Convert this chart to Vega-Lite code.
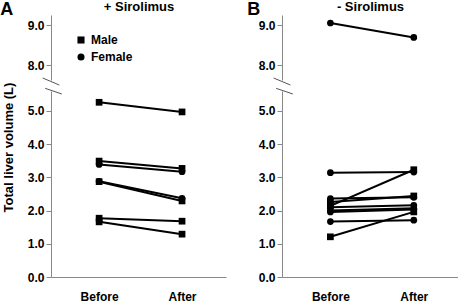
{
  "$schema": "https://vega.github.io/schema/vega-lite/v6.json",
  "padding": {"left": 0, "top": 0, "right": 0, "bottom": 0},
  "spacing": 21,
  "config": {
    "font": "Liberation Sans",
    "view": {"stroke": null},
    "axis": {"domainColor": "#888", "tickColor": "#888", "labelFont": "Liberation Sans", "labelFontWeight": "bold", "labelFontSize": 12, "labelColor": "#000", "titleFont": "Liberation Sans", "titleFontWeight": "bold", "titleColor": "#000", "grid": false, "tickSize": 5, "labelPadding": 2},
    "title": {"font": "Liberation Sans", "fontWeight": "bold", "color": "#000"},
    "legend": {"labelFont": "Liberation Sans", "labelFontWeight": "bold", "labelFontSize": 12, "labelColor": "#000"}
  },
  "datasets": {
    "vol": [
      {"panel": "A", "id": "A1", "sex": "Male", "time": 1, "volume": 5.26},
      {"panel": "A", "id": "A1", "sex": "Male", "time": 2, "volume": 4.97},
      {"panel": "A", "id": "A2", "sex": "Male", "time": 1, "volume": 3.49},
      {"panel": "A", "id": "A2", "sex": "Male", "time": 2, "volume": 3.27},
      {"panel": "A", "id": "A3", "sex": "Female", "time": 1, "volume": 3.39},
      {"panel": "A", "id": "A3", "sex": "Female", "time": 2, "volume": 3.17},
      {"panel": "A", "id": "A5", "sex": "Male", "time": 1, "volume": 2.87},
      {"panel": "A", "id": "A5", "sex": "Male", "time": 2, "volume": 2.29},
      {"panel": "A", "id": "A4", "sex": "Female", "time": 1, "volume": 2.88},
      {"panel": "A", "id": "A4", "sex": "Female", "time": 2, "volume": 2.37},
      {"panel": "A", "id": "A6", "sex": "Male", "time": 1, "volume": 1.77},
      {"panel": "A", "id": "A6", "sex": "Male", "time": 2, "volume": 1.68},
      {"panel": "A", "id": "A7", "sex": "Male", "time": 1, "volume": 1.66},
      {"panel": "A", "id": "A7", "sex": "Male", "time": 2, "volume": 1.29},
      {"panel": "B", "id": "B1", "sex": "Female", "time": 1, "volume": 9.05},
      {"panel": "B", "id": "B1", "sex": "Female", "time": 2, "volume": 8.69},
      {"panel": "B", "id": "B3", "sex": "Male", "time": 1, "volume": 2.14},
      {"panel": "B", "id": "B3", "sex": "Male", "time": 2, "volume": 3.23},
      {"panel": "B", "id": "B2", "sex": "Female", "time": 1, "volume": 3.14},
      {"panel": "B", "id": "B2", "sex": "Female", "time": 2, "volume": 3.16},
      {"panel": "B", "id": "B5", "sex": "Male", "time": 1, "volume": 2.26},
      {"panel": "B", "id": "B5", "sex": "Male", "time": 2, "volume": 2.44},
      {"panel": "B", "id": "B4", "sex": "Female", "time": 1, "volume": 2.36},
      {"panel": "B", "id": "B4", "sex": "Female", "time": 2, "volume": 2.40},
      {"panel": "B", "id": "B6", "sex": "Female", "time": 1, "volume": 2.10},
      {"panel": "B", "id": "B6", "sex": "Female", "time": 2, "volume": 2.16},
      {"panel": "B", "id": "B7", "sex": "Female", "time": 1, "volume": 2.00},
      {"panel": "B", "id": "B7", "sex": "Female", "time": 2, "volume": 2.07},
      {"panel": "B", "id": "B10", "sex": "Male", "time": 1, "volume": 1.21},
      {"panel": "B", "id": "B10", "sex": "Male", "time": 2, "volume": 1.96},
      {"panel": "B", "id": "B8", "sex": "Female", "time": 1, "volume": 1.96},
      {"panel": "B", "id": "B8", "sex": "Female", "time": 2, "volume": 2.03},
      {"panel": "B", "id": "B9", "sex": "Female", "time": 1, "volume": 1.67},
      {"panel": "B", "id": "B9", "sex": "Female", "time": 2, "volume": 1.71}
    ],
    "brk": [
      {"seg": "upper", "t_start": 0.32, "t_end": 0.52, "v_start": 7.675, "v_end": 7.5},
      {"seg": "lower", "t_start": 0.35, "t_end": 0.55, "v_start": 5.68, "v_end": 5.51}
    ]
  },
  "hconcat": [
    {
      "bounds": "flush",
      "spacing": 11,
      "vconcat": [
        {
          "width": 175, "height": 65,
          "title": {"text": "A", "anchor": "start", "frame": "bounds", "fontSize": 18, "offset": -19, "dx": -27},
          "layer": [
            {
              "data": {"name": "brk"},
              "transform": [{"filter": "datum.seg == 'upper'"}],
              "mark": {"type": "rule", "color": "#555", "strokeWidth": 1},
              "encoding": {
                "x": {"field": "t_start", "type": "quantitative"},
                "x2": {"field": "t_end"},
                "y": {"field": "v_start", "type": "quantitative"},
                "y2": {"field": "v_end"}
              }
            },
            {
              "data": {"name": "vol"},
              "transform": [{"filter": "datum.panel == 'A' && datum.volume > 6"}],
              "mark": {"type": "line", "color": "black", "strokeWidth": 2},
              "encoding": {
                "x": {"field": "time", "type": "quantitative"},
                "y": {"field": "volume", "type": "quantitative"},
                "detail": {"field": "id"}
              }
            },
            {
              "data": {"name": "vol"},
              "transform": [{"filter": "datum.panel == 'A' && datum.volume > 6"}],
              "mark": {"type": "point", "filled": true, "color": "black", "opacity": 1, "size": 45},
              "encoding": {
                "x": {"field": "time", "type": "quantitative"},
                "y": {"field": "volume", "type": "quantitative"},
                "shape": {"field": "sex", "type": "nominal", "scale": {"domain": ["Male", "Female"], "range": ["square", "circle"]},
                  "legend": {"orient": "none", "legendX": 24, "legendY": 19, "title": null, "symbolSize": 50, "symbolFillColor": "black", "symbolStrokeColor": "black", "rowPadding": 3}}
              }
            }
          ],
          "encoding": {
            "x": {"scale": {"domain": [0.42, 2.53], "nice": false, "zero": false},
              "axis": {"orient": "top", "title": "+ Sirolimus", "titleFontSize": 13, "titlePadding": 2, "labels": false, "ticks": false, "domain": false}},
            "y": {"scale": {"domain": [7.625, 9.25], "nice": false, "zero": false},
              "axis": {"values": [8, 9], "format": ".1f", "title": null}}
          }
        },
        {
          "width": 175, "height": 186,
          "layer": [
            {
              "data": {"name": "brk"},
              "transform": [{"filter": "datum.seg == 'lower'"}],
              "mark": {"type": "rule", "color": "#555", "strokeWidth": 1},
              "encoding": {
                "x": {"field": "t_start", "type": "quantitative"},
                "x2": {"field": "t_end"},
                "y": {"field": "v_start", "type": "quantitative"},
                "y2": {"field": "v_end"}
              }
            },
            {
              "data": {"name": "vol"},
              "transform": [{"filter": "datum.panel == 'A' && datum.volume < 6"}],
              "mark": {"type": "line", "color": "black", "strokeWidth": 2},
              "encoding": {
                "x": {"field": "time", "type": "quantitative"},
                "y": {"field": "volume", "type": "quantitative"},
                "detail": {"field": "id"}
              }
            },
            {
              "data": {"name": "vol"},
              "transform": [{"filter": "datum.panel == 'A' && datum.volume < 6"}],
              "mark": {"type": "point", "filled": true, "color": "black", "opacity": 1, "size": 45},
              "encoding": {
                "x": {"field": "time", "type": "quantitative"},
                "y": {"field": "volume", "type": "quantitative"},
                "shape": {"field": "sex", "type": "nominal", "scale": {"domain": ["Male", "Female"], "range": ["square", "circle"]}, "legend": null}
              }
            }
          ],
          "encoding": {
            "x": {"scale": {"domain": [0.42, 2.53], "nice": false, "zero": false},
              "axis": {"orient": "bottom", "values": [1, 2], "labelExpr": "datum.value == 1 ? 'Before' : 'After'", "ticks": false, "labelPadding": 14, "labelFontSize": 12, "title": null}},
            "y": {"scale": {"domain": [0, 5.6], "nice": false, "zero": false},
              "axis": {"values": [0, 1, 2, 3, 4, 5], "format": ".1f", "title": "Total liver volume (L)", "titleFontSize": 13, "titleY": 56, "titlePadding": 12}}
          }
        }
      ]
    },
    {
      "bounds": "flush",
      "spacing": 11,
      "vconcat": [
        {
          "width": 176, "height": 65,
          "title": {"text": "B", "anchor": "start", "frame": "bounds", "fontSize": 18, "offset": -19, "dx": -11},
          "layer": [
            {
              "data": {"name": "brk"},
              "transform": [{"filter": "datum.seg == 'upper'"}],
              "mark": {"type": "rule", "color": "#555", "strokeWidth": 1},
              "encoding": {
                "x": {"field": "t_start", "type": "quantitative"},
                "x2": {"field": "t_end"},
                "y": {"field": "v_start", "type": "quantitative"},
                "y2": {"field": "v_end"}
              }
            },
            {
              "data": {"name": "vol"},
              "transform": [{"filter": "datum.panel == 'B' && datum.volume > 6"}],
              "mark": {"type": "line", "color": "black", "strokeWidth": 2},
              "encoding": {
                "x": {"field": "time", "type": "quantitative"},
                "y": {"field": "volume", "type": "quantitative"},
                "detail": {"field": "id"}
              }
            },
            {
              "data": {"name": "vol"},
              "transform": [{"filter": "datum.panel == 'B' && datum.volume > 6"}],
              "mark": {"type": "point", "filled": true, "color": "black", "opacity": 1, "size": 45},
              "encoding": {
                "x": {"field": "time", "type": "quantitative"},
                "y": {"field": "volume", "type": "quantitative"},
                "shape": {"field": "sex", "type": "nominal", "scale": {"domain": ["Male", "Female"], "range": ["square", "circle"]}, "legend": null}
              }
            }
          ],
          "encoding": {
            "x": {"scale": {"domain": [0.42, 2.53], "nice": false, "zero": false},
              "axis": {"orient": "top", "title": "- Sirolimus", "titleFontSize": 13, "titlePadding": 2, "labels": false, "ticks": false, "domain": false}},
            "y": {"scale": {"domain": [7.625, 9.25], "nice": false, "zero": false},
              "axis": {"values": [8, 9], "format": ".1f", "title": null}}
          }
        },
        {
          "width": 176, "height": 186,
          "layer": [
            {
              "data": {"name": "brk"},
              "transform": [{"filter": "datum.seg == 'lower'"}],
              "mark": {"type": "rule", "color": "#555", "strokeWidth": 1},
              "encoding": {
                "x": {"field": "t_start", "type": "quantitative"},
                "x2": {"field": "t_end"},
                "y": {"field": "v_start", "type": "quantitative"},
                "y2": {"field": "v_end"}
              }
            },
            {
              "data": {"name": "vol"},
              "transform": [{"filter": "datum.panel == 'B' && datum.volume < 6"}],
              "mark": {"type": "line", "color": "black", "strokeWidth": 2},
              "encoding": {
                "x": {"field": "time", "type": "quantitative"},
                "y": {"field": "volume", "type": "quantitative"},
                "detail": {"field": "id"}
              }
            },
            {
              "data": {"name": "vol"},
              "transform": [{"filter": "datum.panel == 'B' && datum.volume < 6"}],
              "mark": {"type": "point", "filled": true, "color": "black", "opacity": 1, "size": 45},
              "encoding": {
                "x": {"field": "time", "type": "quantitative"},
                "y": {"field": "volume", "type": "quantitative"},
                "shape": {"field": "sex", "type": "nominal", "scale": {"domain": ["Male", "Female"], "range": ["square", "circle"]}, "legend": null}
              }
            }
          ],
          "encoding": {
            "x": {"scale": {"domain": [0.42, 2.53], "nice": false, "zero": false},
              "axis": {"orient": "bottom", "values": [1, 2], "labelExpr": "datum.value == 1 ? 'Before' : 'After'", "ticks": false, "labelPadding": 14, "labelFontSize": 12, "title": null}},
            "y": {"scale": {"domain": [0, 5.6], "nice": false, "zero": false},
              "axis": {"values": [0, 1, 2, 3, 4, 5], "format": ".1f", "title": null}}
          }
        }
      ]
    }
  ]
}
